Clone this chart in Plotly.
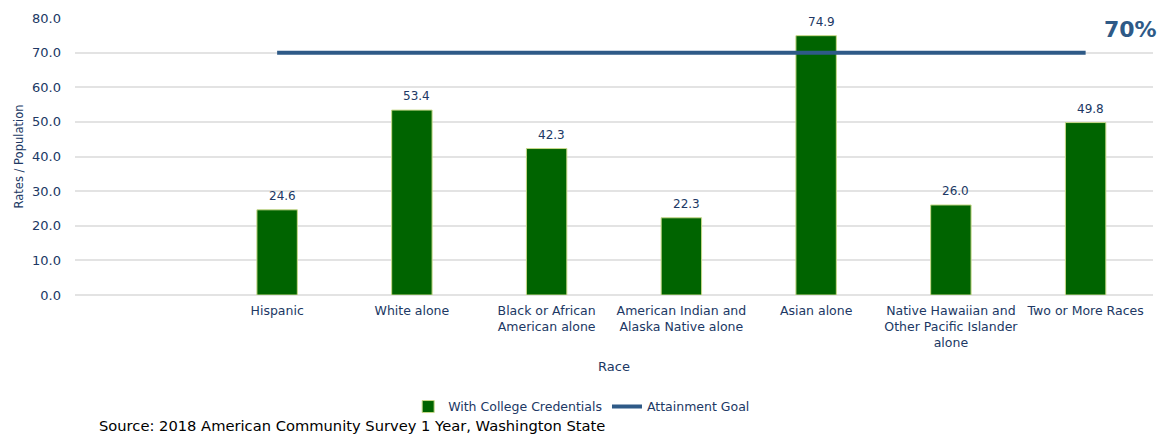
import plotly.graph_objects as go

categories = [
    "Hispanic",
    "White alone",
    "Black or African<br>American alone",
    "American Indian and<br>Alaska Native alone",
    "Asian alone",
    "Native Hawaiian and<br>Other Pacific Islander<br>alone",
    "Two or More Races",
]
credential_rates = [24.6, 53.4, 42.3, 22.3, 74.9, 26.0, 49.8]
attainment_goal = [70, 70, 70, 70, 70, 70, 70]
y_ticks = [0, 10, 20, 30, 40, 50, 60, 70, 80]

NAVY = "#203864"
GOAL = "#2E5A87"
FONT = "DejaVu Sans"

fig = go.Figure()
fig.add_trace(go.Bar(
    x=categories, y=credential_rates, name="With College Credentials",
    marker=dict(color="#006400", line=dict(color="#C9D98A", width=1)),
    width=0.30,
))
fig.add_trace(go.Scatter(
    x=categories, y=attainment_goal, name="Attainment Goal", mode="lines",
    line=dict(color=GOAL, width=4),
))

for c, v in zip(categories, credential_rates):
    fig.add_annotation(x=c, y=v, text=f"{v:.1f}", showarrow=False, yanchor="bottom",
                       yshift=5, xshift=5, font=dict(size=12, color=NAVY, family=FONT))

fig.add_annotation(xref="paper", yref="paper", x=1.006, y=0.957, text="<b>70%</b>",
                   showarrow=False, xanchor="right", yanchor="middle",
                   font=dict(size=22, color=GOAL, family=FONT))

fig.add_annotation(xref="paper", yref="paper", x=0.02, y=-0.472,
                   text="Source: 2018 American Community Survey 1 Year, Washington State",
                   showarrow=False, xanchor="left", yanchor="middle",
                   font=dict(size=14.7, color="#000000", family=FONT))

fig.update_layout(
    width=1163, height=435,
    margin=dict(l=75, r=10, t=18, b=140),
    paper_bgcolor="white", plot_bgcolor="white",
    font=dict(family=FONT, size=12.5, color=NAVY),
    bargap=0.7,
    legend=dict(orientation="h", x=0.47, y=-0.404, xanchor="center", yanchor="middle",
                font=dict(size=12.5, color=NAVY, family=FONT), traceorder="normal",
                entrywidthmode="pixels"),
    xaxis=dict(
        categoryorder="array", categoryarray=categories, automargin=False,
        range=[-1.5, 6.5], showgrid=False, showline=False, ticks="", ticklabelstandoff=6,
        title=dict(text="Race", font=dict(size=13, color=NAVY), standoff=12),
        tickfont=dict(size=12.5, color=NAVY, family=FONT),
    ),
    yaxis=dict(
        range=[0, 80], tickvals=y_ticks, tickformat=".1f", automargin=False,
        gridcolor="#E3E3E3", gridwidth=1.5, zeroline=True, zerolinecolor="#E3E3E3",
        zerolinewidth=1.5, showline=False, ticks="", ticklabelstandoff=13,
        title=dict(text="Rates / Population", font=dict(size=11.5, color=NAVY), standoff=6),
        tickfont=dict(size=13, color=NAVY, family=FONT),
    ),
)

fig.write_html("out.html", config={"displayModeBar": False},
               post_script="document.body.style.margin='0';")
